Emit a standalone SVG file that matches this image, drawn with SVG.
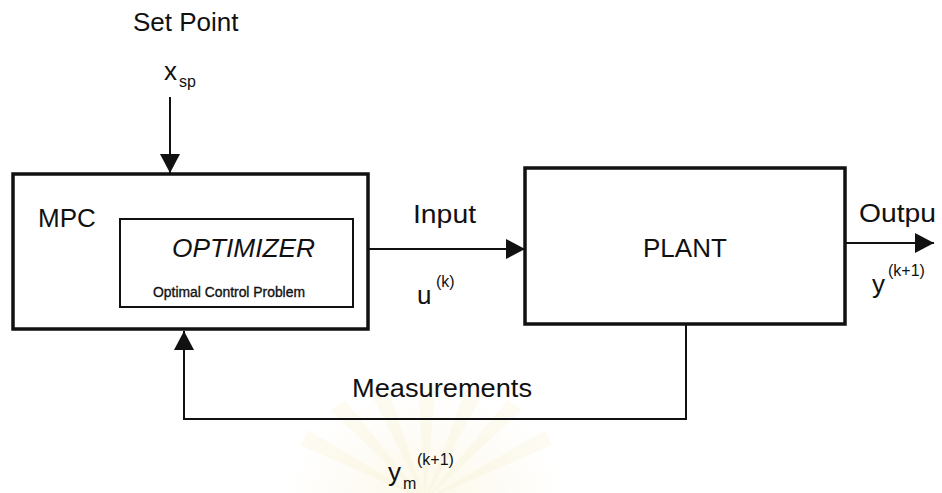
<svg xmlns="http://www.w3.org/2000/svg" width="942" height="493" viewBox="0 0 942 493">
  <defs>
    <style>
      text { font-family: "Liberation Sans", Arial, sans-serif; fill: #111; }
      .lbl { font-size: 26px; }
      .sub { font-size: 16px; }
      .small { font-size: 14px; stroke: #111; stroke-width: 0.35; }
      .box { fill: none; stroke: #111; stroke-width: 3.5; }
      .inner { fill: none; stroke: #111; stroke-width: 2; }
      .wire { fill: none; stroke: #111; stroke-width: 2; }
      .ray { fill: #f5ebc4; opacity: 0.22; }
    </style>
    <marker id="head" markerUnits="userSpaceOnUse" markerWidth="20" markerHeight="20"
            refX="19" refY="10" orient="auto" viewBox="0 0 20 20">
      <path d="M0,0 L19,10 L0,20 z" fill="#111"/>
    </marker>
    <radialGradient id="glow" cx="0.5" cy="0.5" r="0.5">
      <stop offset="0" stop-color="#f6eac0" stop-opacity="0.35"/>
      <stop offset="1" stop-color="#f6eac0" stop-opacity="0"/>
    </radialGradient>
  </defs>

  <rect width="942" height="493" fill="#ffffff"/>

  <!-- faint emblem behind the measurement label -->
  <g id="emblem">
    <ellipse cx="425" cy="500" rx="140" ry="110" fill="url(#glow)"/>
    <path class="ray" d="M425,500 L330,410 L345,400 Z"/>
    <path class="ray" d="M425,500 L370,392 L388,388 Z"/>
    <path class="ray" d="M425,500 L418,384 L436,384 Z"/>
    <path class="ray" d="M425,500 L466,388 L484,392 Z"/>
    <path class="ray" d="M425,500 L508,400 L522,410 Z"/>
    <path class="ray" d="M425,500 L300,445 L308,430 Z"/>
    <path class="ray" d="M425,500 L545,430 L552,445 Z"/>
  </g>

  <!-- set point -->
  <g id="setpoint">
    <text class="lbl" x="133" y="31">Set Point</text>
    <text class="lbl" x="164" y="80">x</text>
    <text class="sub" x="179" y="87">sp</text>
  </g>

  <!-- controller block -->
  <g id="mpc">
    <rect class="box" x="13" y="174" width="355" height="155"/>
    <text class="lbl" x="38" y="227">MPC</text>
  </g>

  <g id="optimizer">
    <rect class="inner" x="120" y="219" width="233" height="88"/>
    <text class="lbl" x="172" y="257" font-style="italic" textLength="143" lengthAdjust="spacingAndGlyphs">OPTIMIZER</text>
    <text class="small" x="153" y="297" textLength="152" lengthAdjust="spacingAndGlyphs">Optimal Control Problem</text>
  </g>

  <!-- process block -->
  <g id="plant">
    <rect class="box" x="525" y="168" width="320" height="156"/>
    <text class="lbl" x="643" y="257">PLANT</text>
  </g>

  <!-- signal lines -->
  <g id="connectors">
    <line class="wire" x1="170" y1="97" x2="170" y2="173" marker-end="url(#head)"/>
    <line class="wire" x1="368" y1="249" x2="525" y2="249" marker-end="url(#head)"/>
    <line class="wire" x1="845" y1="243" x2="934" y2="243" marker-end="url(#head)"/>
    <polyline class="wire" points="686,324 686,419 184,419 184,331" marker-end="url(#head)"/>
  </g>

  <!-- signal labels -->
  <g id="labels">
    <text class="lbl" x="413" y="223" textLength="63" lengthAdjust="spacingAndGlyphs">Input</text>
    <text class="lbl" x="417" y="304">u</text>
    <text class="sub" x="436" y="287">(k)</text>

    <text class="lbl" x="859" y="222" textLength="77" lengthAdjust="spacingAndGlyphs">Outpu</text>
    <text class="lbl" x="872" y="293">y</text>
    <text class="sub" x="888" y="276">(k+1)</text>

    <text class="lbl" x="352" y="397" textLength="180" lengthAdjust="spacingAndGlyphs">Measurements</text>
    <text class="lbl" x="388" y="481">y</text>
    <text class="sub" x="403" y="489">m</text>
    <text class="sub" x="417" y="465">(k+1)</text>
  </g>
</svg>
